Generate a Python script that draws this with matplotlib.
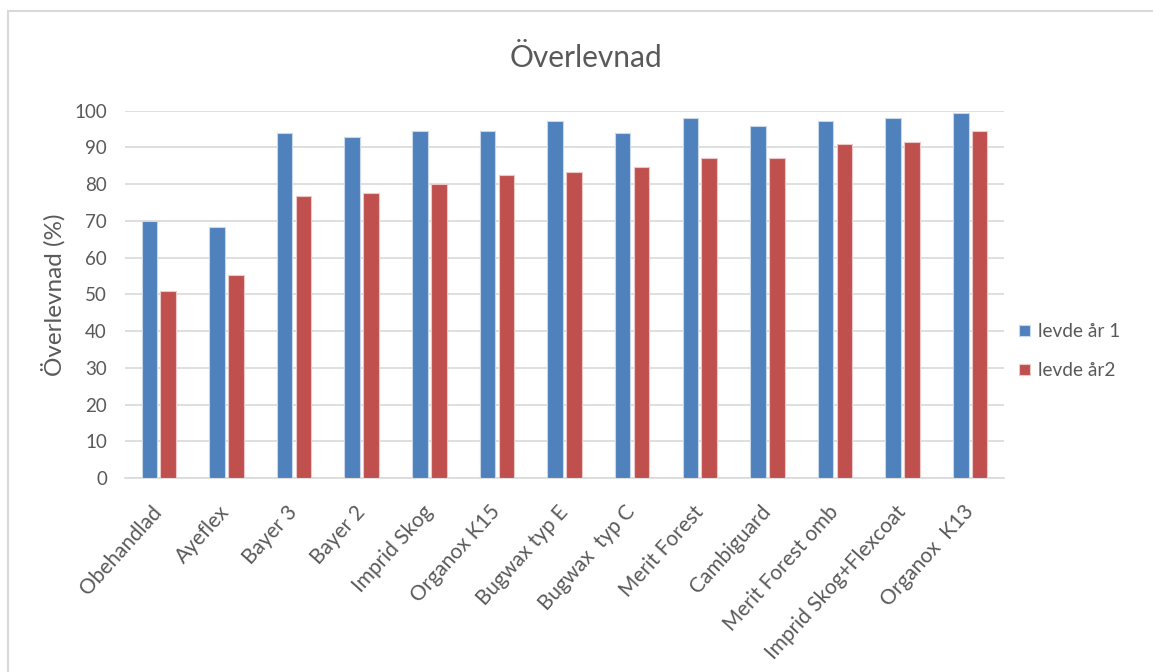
import matplotlib
matplotlib.use("Agg")
import matplotlib.pyplot as plt
import numpy as np
from matplotlib.lines import Line2D

categories = ["Obehandlad", "Ayeflex", "Bayer 3", "Bayer 2", "Imprid Skog", "Organox K15",
              "Bugwax typ E", "Bugwax  typ C", "Merit Forest", "Cambiguard",
              "Merit Forest omb", "Imprid Skog+Flexcoat", "Organox  K13"]
levde_ar1 = [70.0, 68.2, 94.0, 92.9, 94.6, 94.6, 97.3, 93.9, 98.0, 95.9, 97.3, 98.0, 99.4]
levde_ar2 = [50.8, 55.3, 76.9, 77.5, 80.0, 82.6, 83.4, 84.7, 87.2, 87.2, 90.8, 91.5, 94.6]
series_names = ["levde år 1", "levde år2"]
yticks = [0, 10, 20, 30, 40, 50, 60, 70, 80, 90, 100]

plt.rcParams['font.family'] = ['Lato', 'DejaVu Sans']
txt = "#595959"

fig = plt.figure(figsize=(11.53, 6.72), dpi=100)
bx = 8 / 1153
by = 1 - 11 / 672
fig.lines.append(Line2D([bx, bx], [0, by], transform=fig.transFigure, color="#d9d9d9", linewidth=1.5))
fig.lines.append(Line2D([bx, 1.0], [by, by], transform=fig.transFigure, color="#d9d9d9", linewidth=1.5))

ax = fig.add_axes([0.1084, 0.2887, 0.7624, 0.5466])

x = np.arange(len(categories))
w = 0.23
off = 0.14
ax.bar(x - off, levde_ar1, w, color="#4F81BD", edgecolor="#c9d7ea", linewidth=0.8,
       label=series_names[0], zorder=3)
ax.bar(x + off, levde_ar2, w, color="#C0504D", edgecolor="#ecc9c8", linewidth=0.8,
       label=series_names[1], zorder=3)

ax.set_xlim(-0.5, len(categories) - 0.5)
ax.set_ylim(0, 100)
ax.set_yticks(yticks)
ax.yaxis.grid(True, color="#d9d9d9", linewidth=1.2, zorder=0)
for s in ["top", "right", "left"]:
    ax.spines[s].set_visible(False)
ax.spines["bottom"].set_color("#d9d9d9")
ax.spines["bottom"].set_linewidth(1.2)
ax.tick_params(axis="both", length=0, colors=txt)
ax.tick_params(axis="y", pad=13, labelsize=13.5)
ax.set_xticks(x)
ax.set_xticklabels(categories, rotation=48, ha="right", va="center",
                   rotation_mode="anchor", color=txt, fontsize=15)
ax.tick_params(axis="x", pad=22)
ax.set_ylabel("Överlevnad (%)", color=txt, fontsize=17.5, labelpad=6)
fig.text(0.508, 0.914, "Överlevnad", ha="center", va="center", color=txt, fontsize=21.5)

leg = ax.legend(loc="center left", bbox_to_anchor=(0.998, 0.345), frameon=False,
                fontsize=13.7, handlelength=0.55, handleheight=0.55, handletextpad=0.45,
                labelspacing=1.15)
for t in leg.get_texts():
    t.set_color(txt)

fig.savefig("out.png", dpi=100, facecolor="white")
